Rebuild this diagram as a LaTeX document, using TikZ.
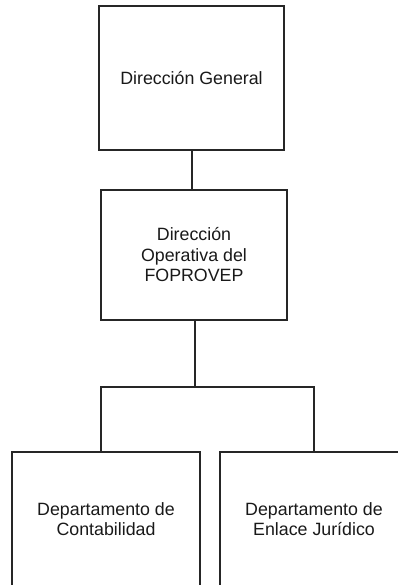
\documentclass[tikz,border=0pt]{standalone}
\usepackage{fontspec}
\setmainfont{Liberation Sans}
\begin{document}
\begin{tikzpicture}[x=1pt,y=-1pt,
  box/.style={draw=black!85, line width=1.5pt, rectangle, align=center, inner sep=0pt,
    font=\fontsize{17.8}{20.5}\selectfont, text=black!90},
  link/.style={draw=black!85, line width=1.5pt}]
\useasboundingbox (0,0) rectangle (398,585);
\clip (0,0) rectangle (398,585);
\node[box, minimum width=185pt, minimum height=144pt] (b1) at (191.5,78) {Dirección General};
\node[box, minimum width=186pt, minimum height=130pt] (b2) at (194,255) {Dirección\\Operativa del\\FOPROVEP};
\node[box, minimum width=188pt, minimum height=134pt] (b3) at (106,519) {Departamento de\\Contabilidad};
\node[box, minimum width=188pt, minimum height=134pt] (b4) at (314,519) {Departamento de\\Enlace Jurídico};
\coordinate (j) at (195,387);
\draw[link] ([xshift=0.5pt]b1.south) -- ([xshift=0.5pt]b1.south |- b2.north);
\draw[link] ([xshift=1pt]b2.south) -- (j);
\draw[link] ([xshift=-5pt]b3.north) |- (j) -| (b4.north);
\end{tikzpicture}
\end{document}
